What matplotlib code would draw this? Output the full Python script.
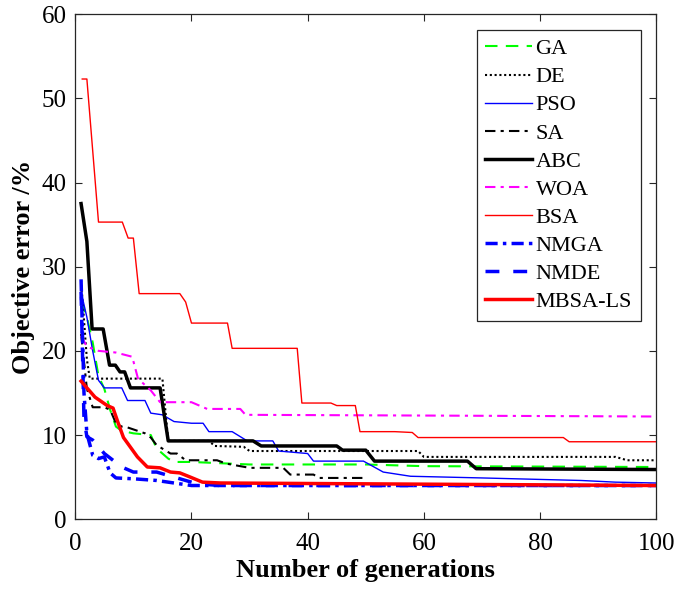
import matplotlib.pyplot as plt

plt.rcParams['font.family'] = ['Liberation Serif', 'DejaVu Serif']
plt.rcParams['mathtext.fontset'] = 'stix'

# ------ curve data (generation, objective error %) ------
ga_x = [1, 2, 3, 4, 5, 6, 7, 8, 10, 13, 14, 16, 17, 20, 30, 50, 60, 100]
ga_y = [26, 24, 21, 17, 15.5, 13, 11, 10.5, 10.2, 10, 8.4, 7.2, 6.8, 6.8, 6.5, 6.5, 6.3, 6.2]

de_x = [1, 2, 2.5, 15, 16, 23, 24, 29, 30, 59, 60, 93, 95, 100]
de_y = [28.4, 19, 16.7, 16.7, 9.3, 9.3, 8.7, 8.6, 8.1, 8.1, 7.4, 7.4, 7.0, 7.0]

pso_x = [1, 2, 3, 4, 5, 8, 9, 12, 13, 15, 17, 20, 22, 23, 27, 29.6, 34, 35, 40, 41,
         49.6, 53, 57.7, 70, 87, 93, 100]
pso_y = [27, 24, 20, 16.5, 15.6, 15.6, 14.1, 14.1, 12.6, 12.4, 11.6, 11.4, 11.4, 10.4,
         10.4, 9.3, 9.3, 8.1, 7.8, 6.9, 6.9, 5.6, 5.1, 4.9, 4.6, 4.4, 4.3]

sa_x = [1, 2, 3, 5, 6, 7, 8, 9, 12, 13, 14, 16.4, 17.5, 19, 24.4, 26, 30, 35.8, 37, 41, 42, 50]
sa_y = [22, 15.5, 13.3, 13.3, 13, 11.4, 11, 10.9, 10.2, 9.7, 8.8, 7.8, 7.8, 7.0, 7.0, 6.6,
        6.1, 6.1, 5.3, 5.3, 4.9, 4.9]

abc_x = [1, 2, 2.9, 4.8, 5.9, 6.9, 7.7, 8.5, 9.5, 14.6, 16, 30.6, 32, 45, 46, 50, 51.5,
         67.5, 69, 100]
abc_y = [37.5, 33, 22.6, 22.6, 18.3, 18.3, 17.5, 17.5, 15.6, 15.6, 9.3, 9.3, 8.7, 8.7,
         8.2, 8.2, 6.9, 6.9, 6.0, 5.9]

woa_x = [1, 2, 4, 7, 9.8, 10.8, 13, 14.6, 20, 22.7, 28.4, 29.3, 100]
woa_y = [21.8, 20.5, 20, 19.8, 19.3, 16.7, 15.3, 13.9, 13.9, 13.1, 13.1, 12.4, 12.2]

bsa_x = [1.2, 2, 4, 8.1, 9.1, 10, 11, 18, 19, 20, 26.2, 27, 38.2, 39, 44, 45, 48.2, 49,
         55, 58, 59, 84, 85, 100]
bsa_y = [52.3, 52.3, 35.3, 35.3, 33.4, 33.4, 26.8, 26.8, 25.8, 23.3, 23.3, 20.3, 20.3,
         13.8, 13.8, 13.5, 13.5, 10.4, 10.4, 10.3, 9.7, 9.7, 9.2, 9.2]

nmga_x = [1, 1.5, 2, 3, 4, 5, 6, 7, 10, 14, 17, 20, 100]
nmga_y = [28.5, 15, 10.2, 7.6, 7.2, 7.4, 5.5, 4.9, 4.8, 4.6, 4.3, 4.0, 4.0]

nmde_x = [1, 1.5, 2, 3, 5, 8, 10, 14, 17, 19, 21, 25, 100]
nmde_y = [27, 12, 9.8, 9.4, 7.8, 6.2, 5.6, 5.6, 5.0, 4.6, 4.2, 4.0, 4.0]

mbsa_x = [1, 3.4, 5.5, 6.5, 7.4, 8.3, 10.7, 12.4, 14.6, 16.4, 18, 19.8, 21.9, 25, 100]
mbsa_y = [16.4, 14.5, 13.5, 13.2, 11.4, 9.7, 7.4, 6.2, 6.1, 5.6, 5.5, 5.0, 4.4, 4.3, 4.0]

# ------ plot ------
fig = plt.figure(figsize=(6.78, 5.92), dpi=100)
ax = fig.add_axes([0.111, 0.123, 0.857, 0.853])

ax.plot(ga_x, ga_y, color='#00ff00', lw=1.5, dashes=(6, 4), label='GA')
ax.plot(de_x, de_y, color='black', lw=1.5, dashes=(1, 1.3), label='DE')
ax.plot(pso_x, pso_y, color='blue', lw=1.0, label='PSO')
ax.plot(sa_x, sa_y, color='black', lw=1.5, dashes=(5, 2.5, 1.5, 2.5), label='SA')
ax.plot(abc_x, abc_y, color='black', lw=2.5, label='ABC')
ax.plot(woa_x, woa_y, color='magenta', lw=1.5, dashes=(5, 2.5, 1.5, 2.5), label='WOA')
ax.plot(bsa_x, bsa_y, color='red', lw=1.0, label='BSA')
ax.plot(nmga_x, nmga_y, color='blue', lw=2.5, dashes=(3.5, 1.5, 1, 1.5), label='NMGA')
ax.plot(nmde_x, nmde_y, color='blue', lw=2.5, dashes=(4, 4), label='NMDE')
ax.plot(mbsa_x, mbsa_y, color='red', lw=2.5, label='MBSA-LS')

ax.set_xlim(0, 100)
ax.set_ylim(0, 60)
ax.set_xticks([0, 20, 40, 60, 80, 100])
ax.set_yticks([0, 10, 20, 30, 40, 50, 60])
ax.tick_params(direction='in', top=True, right=True, labelsize=18, length=5,
               color='#262626')
ax.tick_params(axis='x', pad=10)
ax.tick_params(axis='y', pad=6)
for s in ax.spines.values():
    s.set_color('#262626')
    s.set_linewidth(0.9)

ax.set_xlabel('Number of generations', fontsize=19, fontweight='bold', labelpad=3)
ax.set_ylabel('Objective error /%', fontsize=19, fontweight='bold', labelpad=5)

leg = ax.legend(loc='upper right', fontsize=16, handlelength=2.1, handletextpad=0.15,
                labelspacing=0.34, borderaxespad=0.7, fancybox=False, framealpha=1,
                borderpad=0.4)
leg.get_frame().set_edgecolor('#262626')
leg.get_frame().set_linewidth(0.9)

plt.savefig('out.png', dpi=100)
